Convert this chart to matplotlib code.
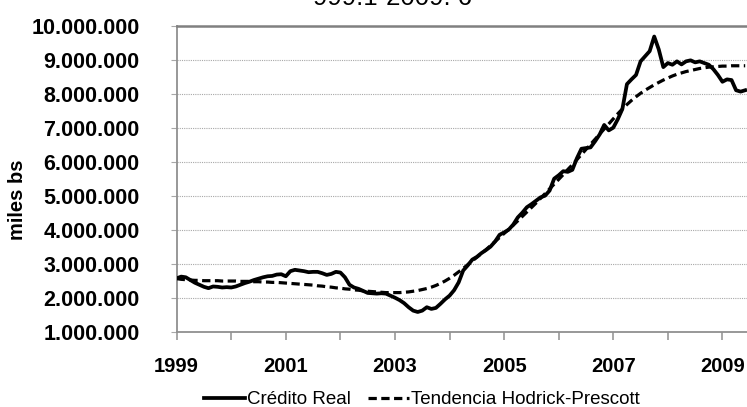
import matplotlib
matplotlib.use("Agg")
import matplotlib.pyplot as plt
from matplotlib.ticker import FuncFormatter, MultipleLocator

plt.rcParams["font.family"] = ["Liberation Sans", "DejaVu Sans"]

# crédito real mensual 1999:1 - 2009:6 (millones de bs)
credito_real = [
    2.57, 2.62, 2.60, 2.52, 2.44, 2.38, 2.32, 2.28, 2.33, 2.32, 2.30, 2.31,
    2.30, 2.33, 2.38, 2.43, 2.47, 2.52, 2.56, 2.60, 2.63, 2.64, 2.68, 2.69,
    2.63, 2.78, 2.82, 2.80, 2.78, 2.75, 2.76, 2.76, 2.72, 2.67, 2.70, 2.76,
    2.74, 2.60, 2.38, 2.30, 2.26, 2.20, 2.14, 2.13, 2.12, 2.13, 2.12, 2.06,
    2.00, 1.93, 1.84, 1.72, 1.62, 1.58, 1.62, 1.72, 1.67, 1.70, 1.82, 1.95,
    2.06, 2.22, 2.45, 2.80, 2.95, 3.12, 3.20, 3.31, 3.40, 3.50, 3.65, 3.85,
    3.92, 4.00, 4.15, 4.36, 4.50, 4.66, 4.75, 4.85, 4.95, 5.00, 5.15, 5.50,
    5.60, 5.72, 5.70, 5.76, 6.10, 6.38, 6.40, 6.42, 6.60, 6.80, 7.08, 6.92,
    7.00, 7.25, 7.55, 8.28, 8.42, 8.55, 8.95, 9.10, 9.25, 9.68, 9.30, 8.78,
    8.90, 8.85, 8.95, 8.86, 8.95, 8.98, 8.92, 8.95, 8.90, 8.85, 8.72, 8.55,
    8.35, 8.42, 8.40, 8.10, 8.06, 8.10,
]
tendencia_hp = [
    2.56, 2.54, 2.53, 2.52, 2.51, 2.51, 2.50, 2.50, 2.50, 2.50, 2.49, 2.49,
    2.49, 2.49, 2.48, 2.48, 2.48, 2.47, 2.47, 2.46, 2.46, 2.45, 2.45, 2.44,
    2.43, 2.42, 2.41, 2.40, 2.39, 2.38, 2.37, 2.35, 2.34, 2.32, 2.31, 2.29,
    2.28, 2.26, 2.25, 2.23, 2.22, 2.20, 2.19, 2.18, 2.17, 2.16, 2.15, 2.15,
    2.15, 2.15, 2.16, 2.17, 2.19, 2.21, 2.24, 2.27, 2.31, 2.36, 2.42, 2.49,
    2.57, 2.66, 2.76, 2.86, 2.97, 3.08, 3.19, 3.30, 3.41, 3.53, 3.65, 3.77,
    3.89, 4.01, 4.13, 4.26, 4.39, 4.52, 4.65, 4.78, 4.92, 5.06, 5.20, 5.34,
    5.48, 5.62, 5.77, 5.91, 6.06, 6.21, 6.36, 6.51, 6.66, 6.81, 6.96, 7.11,
    7.26, 7.41, 7.55, 7.68, 7.80, 7.91, 8.01, 8.10, 8.18, 8.26, 8.33, 8.40,
    8.46, 8.52, 8.57, 8.61, 8.65, 8.68, 8.71, 8.74, 8.76, 8.78, 8.79, 8.80,
    8.81, 8.81, 8.82, 8.82, 8.82, 8.82,
]
anios = ["1999", "", "2001", "", "2003", "", "2005", "", "2007", "", "2009"]

meses = list(range(len(credito_real)))
credito = [v * 1e6 for v in credito_real]
tendencia = [v * 1e6 for v in tendencia_hp]

fig = plt.figure(figsize=(7.47, 4.07), dpi=100)
ax = fig.add_axes([0.2365, 0.185, 0.7635, 0.752])

ax.plot(meses, credito, color="black", lw=2.7, label="Crédito Real", zorder=3)
ax.plot(meses, tendencia, color="black", lw=2.3, dashes=(2.6, 1.4),
        label="Tendencia Hodrick-Prescott", zorder=4)

ax.set_xlim(0, 125.4)
ax.set_ylim(1e6, 1e7)
ax.yaxis.set_major_locator(MultipleLocator(1e6))
ax.yaxis.set_major_formatter(FuncFormatter(lambda v, p: f"{v:,.0f}".replace(",", ".")))
ax.set_xticks(range(0, 121, 12))
ax.set_xticklabels(anios)

ax.grid(axis="y", color="#a8a8a8", lw=0.8, linestyle=(0, (1, 1)))
ax.set_axisbelow(True)

for s in ["left", "bottom"]:
    ax.spines[s].set_color("#909090")
    ax.spines[s].set_linewidth(1.3)
ax.spines["top"].set_color("#808080")
ax.spines["top"].set_linewidth(1.8)
ax.spines["right"].set_visible(False)

ax.tick_params(axis="y", length=4.5, width=0.8, color="#a8a8a8", pad=22,
               labelsize=15.5)
ax.tick_params(axis="x", length=5.5, width=1.3, color="#a0a0a0", pad=13,
               labelsize=14.5)
for t in ax.get_yticklabels() + ax.get_xticklabels():
    t.set_fontweight("bold")

ax.set_ylabel("miles bs", fontsize=14.5, fontweight="bold")
ax.yaxis.set_label_coords(-0.262, 0.43)

fig.text(0.526, 0.988, "999:1-2009: 6", fontsize=18.5, ha="center",
         va="baseline")

fig.legend(loc="center", bbox_to_anchor=(0.565, 0.018), ncol=2, frameon=False,
           fontsize=13.5, handlelength=2.2, handletextpad=0.1, columnspacing=0.9)

fig.savefig("out.png", dpi=100)
